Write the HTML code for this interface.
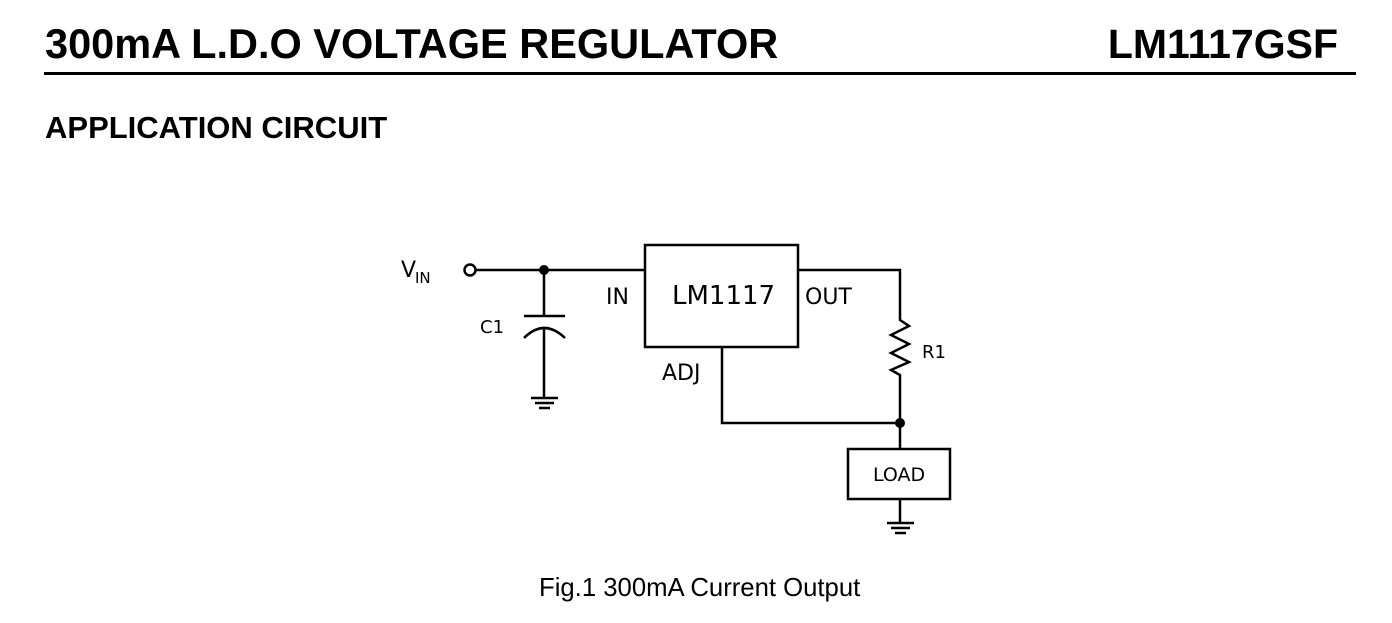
<!DOCTYPE html>
<html><head><style>
body{margin:0;width:1392px;height:623px;background:#fff;font-family:"Liberation Sans",sans-serif;position:relative;overflow:hidden}
.t{position:absolute;white-space:nowrap;color:#000}
</style></head><body>
<div class="t" style="left:45px;top:20px;font-size:41.5px;font-weight:bold;line-height:48px">300mA L.D.O VOLTAGE REGULATOR</div>
<div class="t" style="right:54px;top:20px;font-size:41px;font-weight:bold;line-height:48px">LM1117GSF</div>
<div style="position:absolute;left:44px;top:72px;width:1312px;height:3px;background:#000"></div>
<div class="t" style="left:45px;top:110px;font-size:31px;font-weight:bold;line-height:36px">APPLICATION CIRCUIT</div>
<div class="t" style="left:539px;top:573px;font-size:25.7px;line-height:30px">Fig.1 300mA Current Output</div>
<svg width="1392" height="623" style="position:absolute;left:0;top:0" font-family="DejaVu Sans, sans-serif">
<g stroke="#000" stroke-width="2.5" fill="none">
<circle cx="470" cy="270" r="5.5"/>
<line x1="476" y1="270" x2="645" y2="270"/>
<rect x="645" y="245" width="153" height="102"/>
<line x1="544" y1="270" x2="544" y2="316"/>
<line x1="524" y1="316" x2="565" y2="316"/>
<path d="M524 338 Q544 318 565 338"/>
<line x1="544" y1="327" x2="544" y2="398"/>
<line x1="531" y1="398" x2="558" y2="398"/>
<line x1="535" y1="403" x2="554" y2="403"/>
<line x1="539" y1="408" x2="550" y2="408"/>
<polyline points="798,270 900,270 900,320 909,326 891,335 909,344 891,353 909,362 891,370 900,375 900,449"/>
<polyline points="722,347 722,423 900,423"/>
<rect x="848" y="449" width="102" height="50"/>
<line x1="900" y1="499" x2="900" y2="523"/>
<line x1="887" y1="523" x2="914" y2="523"/>
<line x1="891" y1="528" x2="910" y2="528"/>
<line x1="895" y1="533" x2="906" y2="533"/>
</g>
<circle cx="544" cy="270" r="5" fill="#000"/>
<circle cx="900" cy="423" r="5" fill="#000"/>
<g fill="#000">
<text x="401" y="277" font-size="22">V</text><text x="415" y="283" font-size="15">IN</text>
<text x="606" y="304" font-size="22">IN</text>
<text x="672" y="304" font-size="26">LM1117</text>
<text x="805" y="304" font-size="22">OUT</text>
<text x="480" y="333" font-size="18">C1</text>
<text x="662" y="380" font-size="22">ADJ</text>
<text x="922" y="358" font-size="18">R1</text>
<text x="873" y="481" font-size="19">LOAD</text>
</g>
</svg>
</body></html>
